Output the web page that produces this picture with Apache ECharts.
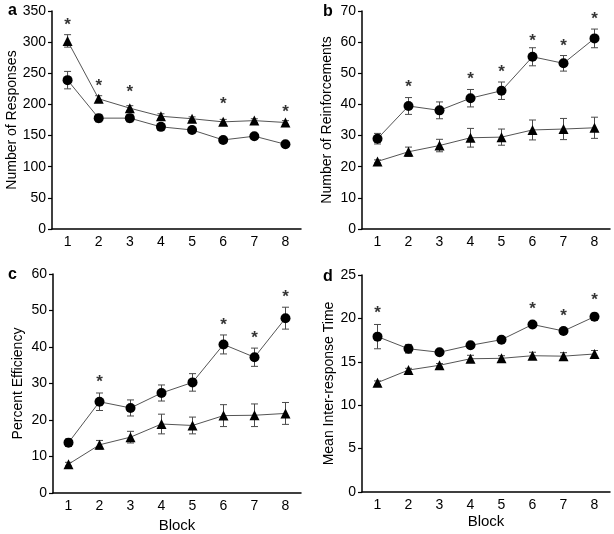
<!DOCTYPE html>
<html>
<head>
<meta charset="utf-8">
<script src="https://cdn.jsdelivr.net/npm/echarts@6/dist/echarts.min.js"></script>
<style>html,body{margin:0;padding:0;background:#fff}#c{width:614px;height:534px}</style>
</head>
<body>
<div id="c"></div>
<script>
// ---- data ----
const blocks = ['1','2','3','4','5','6','7','8'];

// a: Number of Responses
const respCircle    = [239, 178, 178, 164, 159, 143, 149, 136];
const respCircleErr = [14, 6, 6, 5, 4, 3, 3, 3];
const respTri       = [302, 209, 194, 181, 177, 172, 174, 171];
const respTriErr    = [10, 5, 4, 4, 3, 4, 3, 3];
const respSigBlock  = [1, 2, 3, 6, 8];
const respSigLevel  = [334, 235, 226, 206, 194];

// b: Number of Reinforcements
const reinfCircle    = [29.0, 39.5, 38.1, 42.0, 44.4, 55.3, 53.2, 61.2];
const reinfCircleErr = [1.7, 2.7, 2.7, 2.8, 2.8, 2.9, 2.5, 3.0];
const reinfTri       = [21.7, 24.8, 26.8, 29.3, 29.5, 31.8, 32.1, 32.5];
const reinfTriErr    = [0.5, 1.5, 2.0, 3.0, 2.6, 3.2, 3.4, 3.4];
const reinfSigBlock  = [2, 4, 5, 6, 7, 8];
const reinfSigLevel  = [46.8, 49.2, 51.6, 61.5, 59.9, 68.5];

// c: Percent Efficiency
const effCircle    = [13.8, 25.0, 23.3, 27.4, 30.3, 40.7, 37.2, 47.9];
const effCircleErr = [1.0, 2.4, 2.2, 2.2, 2.4, 2.6, 2.5, 3.0];
const effTri       = [7.9, 13.2, 15.3, 18.9, 18.5, 21.2, 21.3, 21.8];
const effTriErr    = [0.5, 1.2, 1.6, 2.7, 2.3, 3.0, 3.1, 3.0];
const effSigBlock  = [2, 6, 7, 8];
const effSigLevel  = [31.4, 47.0, 43.5, 54.8];

// d: Mean Inter-response Time
const irtCircle    = [17.9, 16.5, 16.1, 16.9, 17.55, 19.3, 18.55, 20.2];
const irtCircleErr = [1.4, 0.5, 0.3, 0.3, 0.3, 0.3, 0.3, 0.4];
const irtTri       = [12.6, 14.05, 14.6, 15.35, 15.4, 15.7, 15.65, 15.9];
const irtTriErr    = [0.2, 0.2, 0.2, 0.4, 0.3, 0.4, 0.4, 0.4];
const irtSigBlock  = [1, 6, 7, 8];
const irtSigLevel  = [21.1, 21.5, 20.7, 22.5];

// ---- chart ----
const FONT = '"Liberation Sans", Arial, sans-serif';
const panels = [
  {letter:'a', name:'Number of Responses', max:350, interval:50, circ:respCircle, circErr:respCircleErr, tri:respTri, triErr:respTriErr, sigB:respSigBlock, sigL:respSigLevel,
   grid:{left:52, top:11, width:249, height:218}, nameGap:33, xname:'', xGap:25},
  {letter:'b', name:'Number of Reinforcements', max:70, interval:10, circ:reinfCircle, circErr:reinfCircleErr, tri:reinfTri, triErr:reinfTriErr, sigB:reinfSigBlock, sigL:reinfSigLevel,
   grid:{left:362, top:11, width:248, height:218}, nameGap:28, xname:'', xGap:25},
  {letter:'c', name:'Percent Efficiency', max:60, interval:10, circ:effCircle, circErr:effCircleErr, tri:effTri, triErr:effTriErr, sigB:effSigBlock, sigL:effSigLevel,
   grid:{left:53, top:274, width:248, height:220}, nameGap:28, xname:'Block', xGap:25},
  {letter:'d', name:'Mean Inter-response Time', max:25, interval:5, circ:irtCircle, circErr:irtCircleErr, tri:irtTri, triErr:irtTriErr, sigB:irtSigBlock, sigL:irtSigLevel,
   grid:{left:362, top:275, width:248, height:217}, nameGap:26, xname:'Block', xGap:22}
];

function errRender(params, api) {
  const i = api.value(0), lo = api.value(1), hi = api.value(2);
  const a = api.coord([i, lo]), b = api.coord([i, hi]);
  const w = 3.5;
  const st = {stroke:'#4a4a4a', lineWidth:1};
  return {type:'group', children:[
    {type:'line', shape:{x1:a[0], y1:a[1], x2:b[0], y2:b[1]}, style:st},
    {type:'line', shape:{x1:a[0]-w, y1:a[1], x2:a[0]+w, y2:a[1]}, style:st},
    {type:'line', shape:{x1:b[0]-w, y1:b[1], x2:b[0]+w, y2:b[1]}, style:st}
  ]};
}

const grids = [], xAxes = [], yAxes = [], series = [], titles = [];
const letterPos = [[3,-2],[318,-1],[3,262],[318,264]];
panels.forEach((p, k) => {
  grids.push(p.grid);
  titles.push({text:p.letter, left:letterPos[k][0], top:letterPos[k][1], textStyle:{fontFamily:FONT, fontSize:16, fontWeight:'bold', color:'#000'}});
  xAxes.push({
    type:'category', gridIndex:k, data:blocks, boundaryGap:true,
    name:p.xname, nameLocation:'middle', nameGap:p.xGap,
    nameTextStyle:{fontFamily:FONT, fontSize:15, color:'#000'},
    axisLine:{lineStyle:{color:'#000', width:1.5}},
    axisTick:{alignWithLabel:true, length:4, lineStyle:{color:'#000', width:1.2}},
    axisLabel:{fontFamily:FONT, fontSize:14, color:'#000', margin:6},
    splitLine:{show:false}
  });
  yAxes.push({
    type:'value', gridIndex:k, min:0, max:p.max, interval:p.interval,
    name:p.name, nameLocation:'middle', nameGap:p.nameGap, nameRotate:90,
    nameTextStyle:{fontFamily:FONT, fontSize:14, color:'#000'},
    axisLine:{show:true, lineStyle:{color:'#000', width:1.5}},
    axisTick:{show:true, length:4, lineStyle:{color:'#000', width:1.2}},
    axisLabel:{fontFamily:FONT, fontSize:14, color:'#000', margin:6},
    splitLine:{show:false}
  });
  const mkErr = (vals, errs) => vals.map((v, i) => [i, v - errs[i], v + errs[i]]);
  series.push({type:'custom', xAxisIndex:k, yAxisIndex:k, renderItem:errRender, data:mkErr(p.tri, p.triErr), z:1, silent:true});
  series.push({type:'custom', xAxisIndex:k, yAxisIndex:k, renderItem:errRender, data:mkErr(p.circ, p.circErr), z:1, silent:true});
  series.push({type:'line', xAxisIndex:k, yAxisIndex:k, data:p.tri, symbol:'triangle', symbolSize:10,
    itemStyle:{color:'#000'}, lineStyle:{color:'#555', width:1}, z:3, animation:false});
  series.push({type:'line', xAxisIndex:k, yAxisIndex:k, data:p.circ, symbol:'circle', symbolSize:10,
    itemStyle:{color:'#000'}, lineStyle:{color:'#555', width:1}, z:3, animation:false});
  series.push({type:'scatter', xAxisIndex:k, yAxisIndex:k, symbolSize:0,
    data:p.sigB.map((b, i) => [b - 1, p.sigL[i]]),
    label:{show:true, position:'inside', formatter:'*', fontFamily:FONT, fontSize:17, fontWeight:'bold', color:'#000', offset:[0,4]},
    z:4, silent:true});
});

const chart = echarts.init(document.getElementById('c'), null, {renderer:'canvas'});
chart.setOption({
  animation:false,
  backgroundColor:'#fff',
  title:titles,
  grid:grids, xAxis:xAxes, yAxis:yAxes, series:series
});
</script>
</body>
</html>
